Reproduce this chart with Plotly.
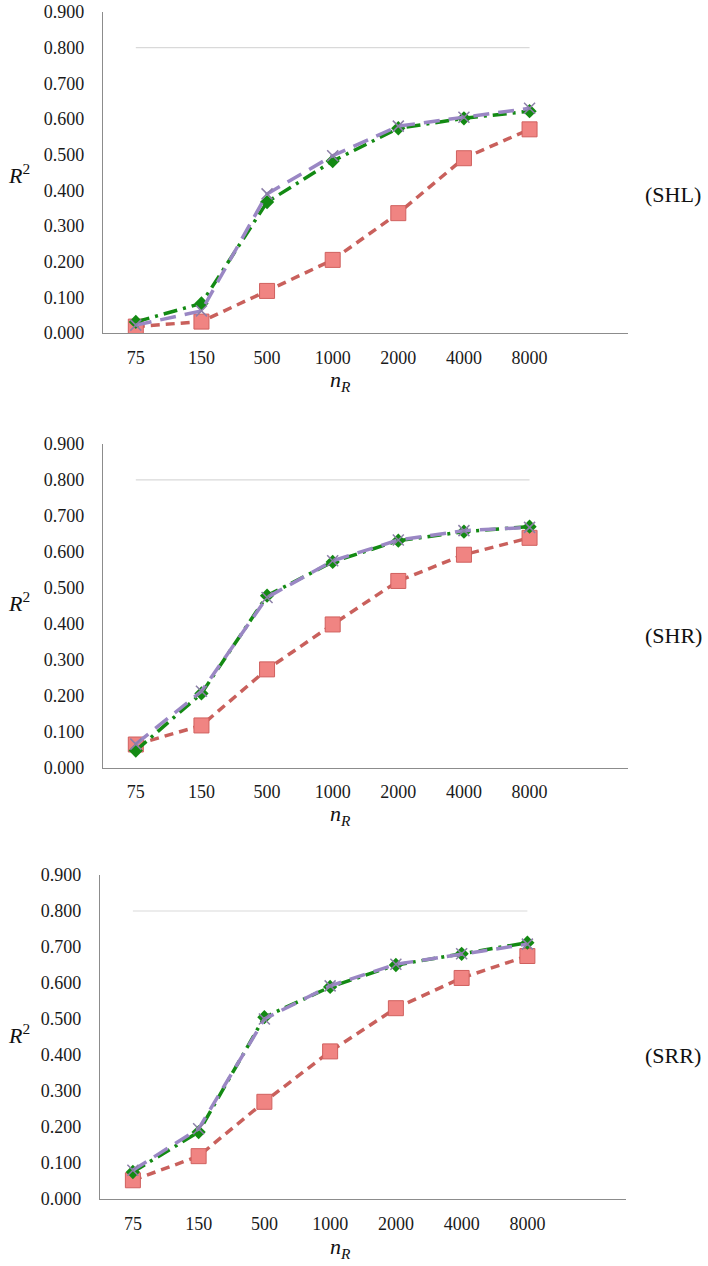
import plotly.graph_objects as go

cats = ["75", "150", "500", "1000", "2000", "4000", "8000"]
panel_names = ["(SHL)", "(SHR)", "(SRR)"]
y_ticks = [0.0, 0.1, 0.2, 0.3, 0.4, 0.5, 0.6, 0.7, 0.8, 0.9]
grid_level = 0.8

shl_red = [0.018, 0.032, 0.118, 0.205, 0.336, 0.490, 0.571]
shl_green = [0.031, 0.083, 0.367, 0.482, 0.574, 0.602, 0.622]
shl_purple = [0.022, 0.062, 0.390, 0.497, 0.580, 0.605, 0.630]

shr_red = [0.064, 0.117, 0.273, 0.398, 0.519, 0.592, 0.639]
shr_green = [0.047, 0.206, 0.478, 0.572, 0.631, 0.656, 0.670]
shr_purple = [0.065, 0.212, 0.473, 0.575, 0.633, 0.659, 0.668]

srr_red = [0.052, 0.119, 0.270, 0.410, 0.530, 0.614, 0.675]
srr_green = [0.075, 0.186, 0.505, 0.589, 0.650, 0.681, 0.712]
srr_purple = [0.080, 0.195, 0.500, 0.592, 0.652, 0.681, 0.708]

panels = [
    (shl_red, shl_green, shl_purple),
    (shr_red, shr_green, shr_purple),
    (srr_red, srr_green, srr_purple),
]

W, H = 708, 1266
FONT = "Liberation Serif"

# pixel geometry per panel: (x_left, x_right, y_zero_px, y_top_px)
geom = [
    (103, 628, 333, 12),
    (103, 628, 767.5, 444),
    (100, 626, 1199, 875),
]
# label positions (px): R2 y, (name) y, n_R y
labels_px = [
    (174, 195, 381),
    (602, 635, 815),
    (1034, 1055, 1248),
]

fig = go.Figure()

for i, (red, green, purple) in enumerate(panels):
    sfx = "" if i == 0 else str(i + 1)
    xa, ya = "x" + sfx, "y" + sfx
    # light gridline
    fig.add_trace(go.Scatter(
        x=[cats[0], cats[-1]], y=[grid_level, grid_level], mode="lines",
        line=dict(color="#D9D9D9", width=1.2), xaxis=xa, yaxis=ya,
        showlegend=False, hoverinfo="skip"))
    fig.add_trace(go.Scatter(
        x=cats, y=red, mode="lines+markers", xaxis=xa, yaxis=ya,
        line=dict(color="#C9605C", width=3.5, dash="9px,6px"),
        marker=dict(symbol="square", size=15, color="#F08482",
                    line=dict(color="#D0605E", width=1)),
        showlegend=False))
    fig.add_trace(go.Scatter(
        x=cats, y=green, mode="lines+markers", xaxis=xa, yaxis=ya,
        line=dict(color="#138A13", width=3.5, dash="14px,6px,3px,6px"),
        marker=dict(symbol="diamond", size=11, color="#138A13"),
        showlegend=False))
    fig.add_trace(go.Scatter(
        x=cats, y=purple, mode="lines+markers", xaxis=xa, yaxis=ya,
        line=dict(color="#9A87C4", width=3.5, dash="16px,9px"),
        marker=dict(symbol="x-thin", size=11,
                    line=dict(color="#8C7FA8", width=1.5)),
        showlegend=False))

    xl, xr, y0, yt = geom[i]
    xdom = [xl / W, xr / W]
    ydom = [(H - y0) / H, (H - yt) / H]
    fig.layout["xaxis" + sfx] = dict(
        domain=xdom, anchor=ya, type="category", categoryorder="array",
        categoryarray=cats, range=[-0.5, 7.5], showgrid=False,
        showline=True, linecolor="#8C8C8C", linewidth=1.3, ticks="",
        tickfont=dict(family=FONT, size=18, color="#1a1a1a"),
        ticklabelstandoff=8, zeroline=False, automargin=False)
    fig.layout["yaxis" + sfx] = dict(
        domain=ydom, anchor=xa, range=[0, 0.9], showgrid=False,
        showline=True, linecolor="#8C8C8C", linewidth=1.3, ticks="",
        tickvals=y_ticks, tickformat=".3f",
        tickfont=dict(family=FONT, size=18, color="#1a1a1a"),
        ticklabelstandoff=14, zeroline=False, automargin=False)

    r2y, namey, nry = labels_px[i]
    common = dict(xref="paper", yref="paper", showarrow=False,
                  xanchor="center", yanchor="middle")
    fig.add_annotation(x=19 / W, y=(H - r2y) / H,
                       text="<i>R</i><sup>2</sup>",
                       font=dict(family=FONT, size=22, color="#111"), **common)
    fig.add_annotation(x=673 / W, y=(H - namey) / H,
                       text=panel_names[i],
                       font=dict(family=FONT, size=22, color="#111"), **common)
    fig.add_annotation(x=340 / W, y=(H - nry) / H,
                       text="<i>n</i><sub><i>R</i></sub>",
                       font=dict(family=FONT, size=22, color="#111"), **common)

fig.update_layout(
    width=W, height=H, margin=dict(l=0, r=0, t=0, b=0, autoexpand=False),
    paper_bgcolor="white", plot_bgcolor="white", showlegend=False)

fig.write_html(
    "out.html",
    config={"displayModeBar": False},
    post_script="document.body.style.margin='0';document.body.style.overflow='hidden';")
